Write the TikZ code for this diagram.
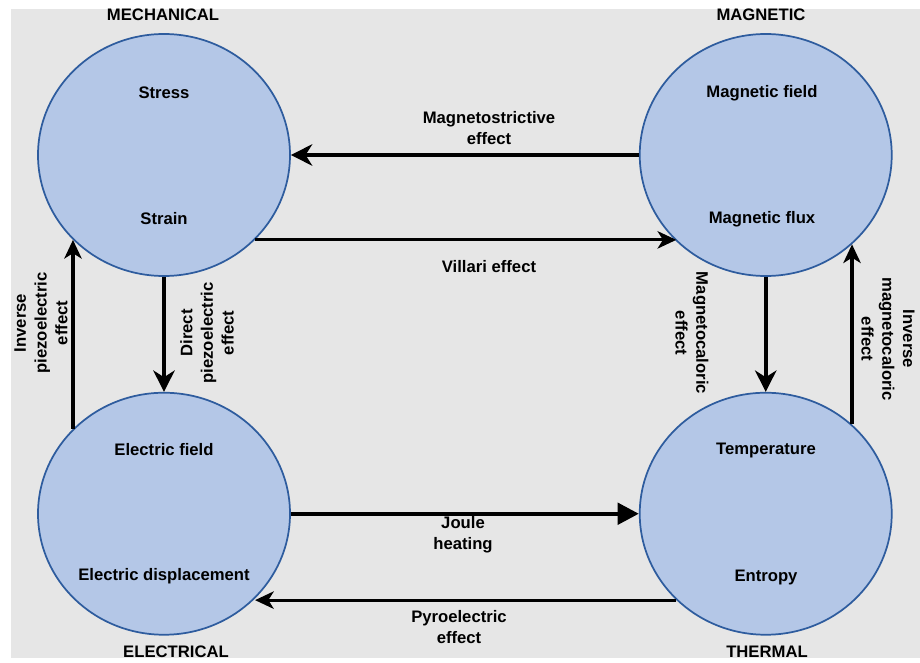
\documentclass[tikz,border=0pt]{standalone}
\usepackage{fontspec}
\setmainfont{Liberation Sans}
\usepackage{xcolor}
\usepackage{tikz}
\usetikzlibrary{shapes.geometric,arrows.meta,positioning}

\definecolor{panelgray}{HTML}{E6E6E6}
\definecolor{domainfill}{HTML}{B4C7E7}
\definecolor{domainedge}{HTML}{2E5C9E}

\begin{document}
\begin{tikzpicture}[
    x=0.75pt, y=-0.75pt,
    physdomain/.style={ellipse, draw=domainedge, fill=domainfill, line width=1.3pt, minimum width=189pt, minimum height=181.5pt, inner sep=0pt},
    qty/.style={font=\bfseries\fontsize{12.5}{15.5}\selectfont, align=center, inner sep=1pt},
    strong/.style={line width=3.2pt, -{Stealth[length=16pt, width=16pt, inset=5pt]}},
    weak/.style={line width=2.4pt, -{Stealth[length=14pt, width=13pt, inset=4pt]}}
]

\useasboundingbox (0,0) rectangle (920,663);
\fill[panelgray] (11,9) rectangle (920,658);

% the four domains
\node[physdomain] (mech) at (164,155) {};
\node[physdomain, right=261pt of mech] (magn) {};
\node[physdomain, below=86.25pt of mech] (elec) {};
\node[physdomain, below=86.25pt of magn] (therm) {};

\node[qty] (mechname) at (163,15) {MECHANICAL};
\node[qty] (magnname) at (761,15) {MAGNETIC};
\node[qty] (elecname) at (176,652) {ELECTRICAL};
\node[qty] (thermname) at (767,652) {THERMAL};

\node[qty] (stress) at (164,93) {Stress};
\node[qty] (strain) at (164,219) {Strain};
\node[qty] (hfield) at (762,93) {Magnetic field};
\node[qty] (bflux) at (762,219) {Magnetic flux};
\node[qty] (efield) at (164,450) {Electric field};
\node[qty] (edisp) at (164,576) {Electric displacement};
\node[qty] (temp) at (766,450) {Temperature};
\node[qty] (entropy) at (766,577) {Entropy};

% effects
\draw[strong] (magn.west) -- (mech.east);
\draw[weak] (mech.-43.4) -- (magn.-136.6 |- mech.-43.4);
\draw[strong] (mech.south) -- (elec.north);
\draw[weak] (elec.137.3) -- (elec.137.3 |- mech.-137.3);
\draw[strong] (magn.south) -- (therm.north);
\draw[weak] (therm.46.3) -- (therm.46.3 |- magn.-46.3);
\draw[strong, -{Triangle[length=16pt, width=16pt]}] (elec.east) -- (therm.west);
\draw[weak] (therm.-136.6) -- (elec.-43.4 |- therm.-136.6);

\node[qty] (magstr) at (489,128) {Magnetostrictive\\effect};
\node[qty] (villari) at (489,267) {Villari effect};
\node[qty, rotate=90] (dirpiezo) at (207,333) {Direct\\piezoelectric\\effect};
\node[qty, rotate=90] (invpiezo) at (41,323) {Inverse\\piezoelectric\\effect};
\node[qty, rotate=-90] (magcal) at (692,333) {Magnetocaloric\\effect};
\node[qty, rotate=-90] (invmagcal) at (888,339) {Inverse\\magnetocaloric\\effect};
\node[qty] (joule) at (463,535) {Joule\\heating};
\node[qty] (pyro) at (459,627) {Pyroelectric\\effect};

\end{tikzpicture}
\end{document}
